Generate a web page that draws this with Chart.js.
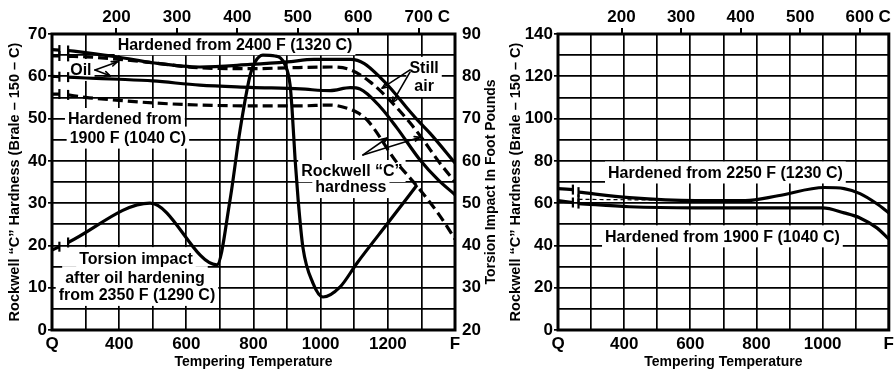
<!DOCTYPE html>
<html><head><meta charset="utf-8">
<script src="https://cdn.jsdelivr.net/npm/chart.js@4.4.1/dist/chart.umd.min.js"></script>
<style>
html,body{margin:0;padding:0;background:#fff;overflow:hidden;}
body{width:894px;height:369px;position:relative;}
canvas{position:absolute;top:0;}
</style></head><body>
<canvas id="left" width="505" height="369" style="left:0"></canvas>
<canvas id="right" width="393" height="369" style="left:505px"></canvas>
<script>
// ---------------- data (x = tempering temperature, F) ----------------
const celsiusTicksLeft  = [200, 300, 400, 500, 600, 700];
const celsiusTicksRight = [200, 300, 400, 500, 600];

// Left panel: Rockwell C hardness
const air2400 = [[200,66.3],[222,66.2],[235,null],[248,66.1],[300,65.6],[400,64.5],[500,63.2],[640,62.2],[790,62.8],[900,63.4],[980,64],[1090,64],[1130,63],[1180,59.5],[1210,57],[1257,52.5],[1290,49.5],[1326,46.5],[1400,39.5]];
const oil2400 = [[200,64.8],[222,64.8],[235,null],[248,64.7],[300,64.6],[400,64],[500,63.2],[640,62],[800,61.8],[900,62],[1030,62.2],[1090,61.5],[1150,58.5],[1210,54],[1266,49],[1305,45],[1350,40],[1400,35]];
const air1900 = [[200,60],[222,59.9],[235,null],[248,59.8],[300,59.6],[400,59.3],[500,58.9],[640,57.9],[790,57.4],[940,57],[1028,56.6],[1088,57.3],[1117,57],[1177,52.8],[1227,47.8],[1296,40.2],[1350,35.5],[1400,32]];
const oil1900 = [[200,55.8],[222,55.8],[235,null],[248,55.6],[300,55],[400,54.3],[500,53.7],[640,53.2],[800,53],[940,53],[1030,53.2],[1080,52.4],[1110,51.4],[1140,49.5],[1227,39.6],[1287,34],[1355,27],[1400,21.5]];
// Left panel: torsion impact, foot pounds (right axis)
const torsion = [[200,38.9],[222,39.7],[235,null],[248,40.7],[492,50],[691,35.4],[730,50.7],[760,67.3],[790,80.3],[805,83.4],[828,85],[864,84.8],[894,82.7],[909,77.9],[915,72],[924,60.2],[933,50.7],[947,39.6],[977,31.1],[1007,27.8],[1058,30.2],[1108,35.8],[1207,46],[1287,54.3]];

// Right panel: Rockwell C hardness
const hard2250 = [[200,66.9],[245,66.4],[255,null],[262,65.2],[416,62.6],[616,61.2],[766,61.2],[865,63.5],[1005,67.4],[1065,66.9],[1113,64.5],[1164,59.7],[1200,55.4]];
const hard1900 = [[200,61.2],[245,60.3],[255,null],[262,59.8],[416,58.3],[616,57.8],[1000,57.8],[1065,55.4],[1113,53],[1164,48.3],[1200,43]];
const hardThin = [[262,61.8],[560,61.4]];

// ---------------- helpers ----------------
const FONT = "'Liberation Sans', Arial, Helvetica, sans-serif";
Chart.defaults.font.family = FONT;
Chart.defaults.font.weight = 'bold';
Chart.defaults.color = '#000';
Chart.defaults.animation = false;

const toXY = arr => arr.map(([x, y]) => ({x, y}));
const F2C = f => (f - 32) / 1.8;

function lineDS(data, dashed, axis, width) {
  return {
    data: toXY(data), borderColor: '#000', borderWidth: width || 3.2,
    borderDash: dashed ? (width ? [4, 3] : [10, 5]) : [],
    pointRadius: 0, fill: false, cubicInterpolationMode: 'monotone',
    yAxisID: axis || 'y', spanGaps: false
  };
}

const decor = {
  id: 'decor',
  beforeDatasetsDraw(chart, a, o) {
    const ctx = chart.ctx, xs = chart.scales.x, ys = chart.scales.y;
    ctx.save();
    ctx.font = `bold ${o.size}px ${FONT}`;
    ctx.textAlign = 'center'; ctx.textBaseline = 'middle';
    for (const l of o.labels || []) {
      const px = xs.getPixelForValue(l.x), py = ys.getPixelForValue(l.y);
      const w = ctx.measureText(l.t).width;
      ctx.fillStyle = '#fff';
      ctx.fillRect(px - w / 2 - 3, py - o.size / 2 - 3, w + 6, o.size + 6);
    }
    ctx.fillStyle = '#000';
    for (const l of o.labels || []) {
      const px = xs.getPixelForValue(l.x), py = ys.getPixelForValue(l.y);
      ctx.fillText(l.t, px, py + 1);
    }
    ctx.restore();
  },
  afterDatasetsDraw(chart, a, o) {
    const ctx = chart.ctx, xs = chart.scales.x, ys = chart.scales.y;
    ctx.save();
    ctx.strokeStyle = '#000'; ctx.lineWidth = 1.6; ctx.lineCap = 'round';
    for (const [x1, y1, x2, y2] of o.arrows || []) {
      const p1 = [xs.getPixelForValue(x1), ys.getPixelForValue(y1)];
      const p2 = [xs.getPixelForValue(x2), ys.getPixelForValue(y2)];
      ctx.beginPath(); ctx.moveTo(p1[0], p1[1]); ctx.lineTo(p2[0], p2[1]); ctx.stroke();
      const ang = Math.atan2(p2[1] - p1[1], p2[0] - p1[0]);
      ctx.beginPath();
      ctx.moveTo(p2[0], p2[1]);
      ctx.lineTo(p2[0] - 6 * Math.cos(ang - 0.4), p2[1] - 6 * Math.sin(ang - 0.4));
      ctx.moveTo(p2[0], p2[1]);
      ctx.lineTo(p2[0] - 6 * Math.cos(ang + 0.4), p2[1] - 6 * Math.sin(ang + 0.4));
      ctx.stroke();
    }
    ctx.lineWidth = 2.2; ctx.lineCap = 'butt';
    chart.data.datasets.forEach(ds => {
      const sc = chart.scales[ds.yAxisID || 'y'];
      for (const bx of o.breaks || []) {
        const p = ds.data.find(d => d.x === bx && d.y != null);
        if (!p) continue;
        const px = xs.getPixelForValue(bx), py = sc.getPixelForValue(p.y);
        ctx.beginPath(); ctx.moveTo(px, py - 5); ctx.lineTo(px, py + 5); ctx.stroke();
      }
    });
    ctx.restore();
  },
  afterDraw(chart, a, o) {
    const ctx = chart.ctx, ca = chart.chartArea;
    ctx.save();
    ctx.strokeStyle = '#000'; ctx.lineWidth = 3;
    ctx.strokeRect(ca.left, ca.top, ca.right - ca.left, ca.bottom - ca.top);
    if (o.rightTitle) {
      const s = chart.scales.y2;
      ctx.font = `bold 14px ${FONT}`;
      ctx.fillStyle = '#000'; ctx.textAlign = 'center'; ctx.textBaseline = 'middle';
      ctx.translate(s.right - 14, (ca.top + ca.bottom) / 2);
      ctx.rotate(-Math.PI / 2);
      ctx.fillText(o.rightTitle, 0, 0);
    }
    ctx.restore();
  }
};

function xAxis(min, max) {
  return {
    type: 'linear', position: 'bottom', min, max,
    ticks: { stepSize: 100, autoSkip: false, maxRotation: 0, padding: 4, font: {size: 17, weight: 'bold'},
      callback: v => v === min ? 'Q' : (v === max ? 'F' : (v % 200 === 0 ? String(v) : '')) },
    grid: { color: '#000', lineWidth: 1.7, drawTicks: false },
    border: { display: false },
    title: { display: true, text: 'Tempering Temperature', font: {size: 14, weight: 'bold', lineHeight: 1}, padding: {top: 0, bottom: 0} },
    afterFit: s => { s.height = 39; }
  };
}
function cAxis(minF, maxF, list) {
  const last = list[list.length - 1];
  return {
    type: 'linear', position: 'top', min: F2C(minF), max: F2C(maxF),
    afterBuildTicks: s => { s.ticks = list.map(v => ({value: v})); },
    ticks: { autoSkip: false, maxRotation: 0, padding: 0, font: {size: 17, weight: 'bold'},
      callback: v => v === last ? '\u2003' + v + ' C' : String(v) },
    grid: { drawOnChartArea: false, drawTicks: true, tickLength: 6, color: '#000', lineWidth: 2 },
    border: { display: false },
    afterFit: s => { s.height = 34; }
  };
}
function yAxis(max, step, labelStep, width, titlePad) {
  return {
    type: 'linear', position: 'left', min: 0, max,
    ticks: { stepSize: step, autoSkip: false, padding: 1, font: {size: 17, weight: 'bold'},
      callback: v => v % labelStep === 0 ? String(v) : '' },
    grid: { color: '#000', lineWidth: 1.7, tickLength: 4,
      tickColor: c => (c.tick && c.tick.value % labelStep === 0) ? '#000' : 'rgba(0,0,0,0)' },
    border: { display: false },
    title: { display: true, text: 'Rockwell \u201CC\u201D Hardness (Brale \u2013 150 \u2013 C)', font: {size: 14.5, weight: 'bold', lineHeight: 1}, padding: {top: titlePad, bottom: 0} },
    afterFit: s => { s.width = width; }
  };
}

// ---------------- left chart ----------------
new Chart(document.getElementById('left'), {
  type: 'line',
  data: { datasets: [
    lineDS(air2400, false), lineDS(oil2400, true),
    lineDS(air1900, false), lineDS(oil1900, true),
    lineDS(torsion, false, 'y2')
  ]},
  options: {
    responsive: false, devicePixelRatio: 1, animation: false,
    layout: { padding: 0 },
    plugins: {
      legend: {display: false}, tooltip: {enabled: false},
      decor: {
        size: 16,
        labels: [
          {t: 'Hardened from 2400 F (1320 C)', x: 745, y: 67.6},
          {t: 'Oil', x: 286, y: 61.5},
          {t: 'Hardened from', x: 417, y: 49.9},
          {t: '1900 F (1040 C)', x: 426, y: 45.5},
          {t: 'Still', x: 1308, y: 62},
          {t: 'air', x: 1308, y: 57.7},
          {t: 'Rockwell \u201CC\u201D', x: 1093, y: 37.6},
          {t: 'hardness', x: 1090, y: 33.8},
          {t: 'Torsion impact', x: 450, y: 17},
          {t: 'after oil hardening', x: 447, y: 12.5},
          {t: 'from 2350 F (1290 C)', x: 453, y: 8.3}
        ],
        arrows: [
          [328, 61.5, 394, 63.4], [328, 61.5, 373, 60.1],
          [1266, 61.5, 1183, 57.2], [1266, 61, 1213, 53.7],
          [1126, 41.4, 1198, 45.4], [1126, 41.4, 1296, 45.6]
        ],
        breaks: [222, 248],
        rightTitle: 'Torsion Impact In Foot Pounds'
      }
    },
    scales: {
      x: xAxis(200, 1400),
      xC: cAxis(200, 1400, celsiusTicksLeft),
      y: yAxis(70, 5, 10, 52, 8),
      y2: {
        type: 'linear', position: 'right', min: 20, max: 90,
        ticks: { stepSize: 10, padding: 7, font: {size: 17, weight: 'bold'} },
        grid: { drawOnChartArea: false, drawTicks: false },
        border: { display: false },
        afterFit: s => { s.width = 50; }
      }
    }
  },
  plugins: [decor]
});

// ---------------- right chart ----------------
new Chart(document.getElementById('right'), {
  type: 'line',
  data: { datasets: [
    lineDS(hard2250, false), lineDS(hard1900, false), lineDS(hardThin, true, 'y', 1.2)
  ]},
  options: {
    responsive: false, devicePixelRatio: 1, animation: false,
    layout: { padding: 0 },
    plugins: {
      legend: {display: false}, tooltip: {enabled: false},
      decor: {
        size: 16,
        labels: [
          {t: 'Hardened from 2250 F (1230 C)', x: 706, y: 74.5},
          {t: 'Hardened from 1900 F (1040 C)', x: 697, y: 44.3}
        ],
        breaks: [245, 262]
      }
    },
    scales: {
      x: xAxis(200, 1200),
      xC: cAxis(200, 1200, celsiusTicksRight),
      y: yAxis(140, 10, 20, 53, 4)
    }
  },
  plugins: [decor]
});
</script>
</body></html>
